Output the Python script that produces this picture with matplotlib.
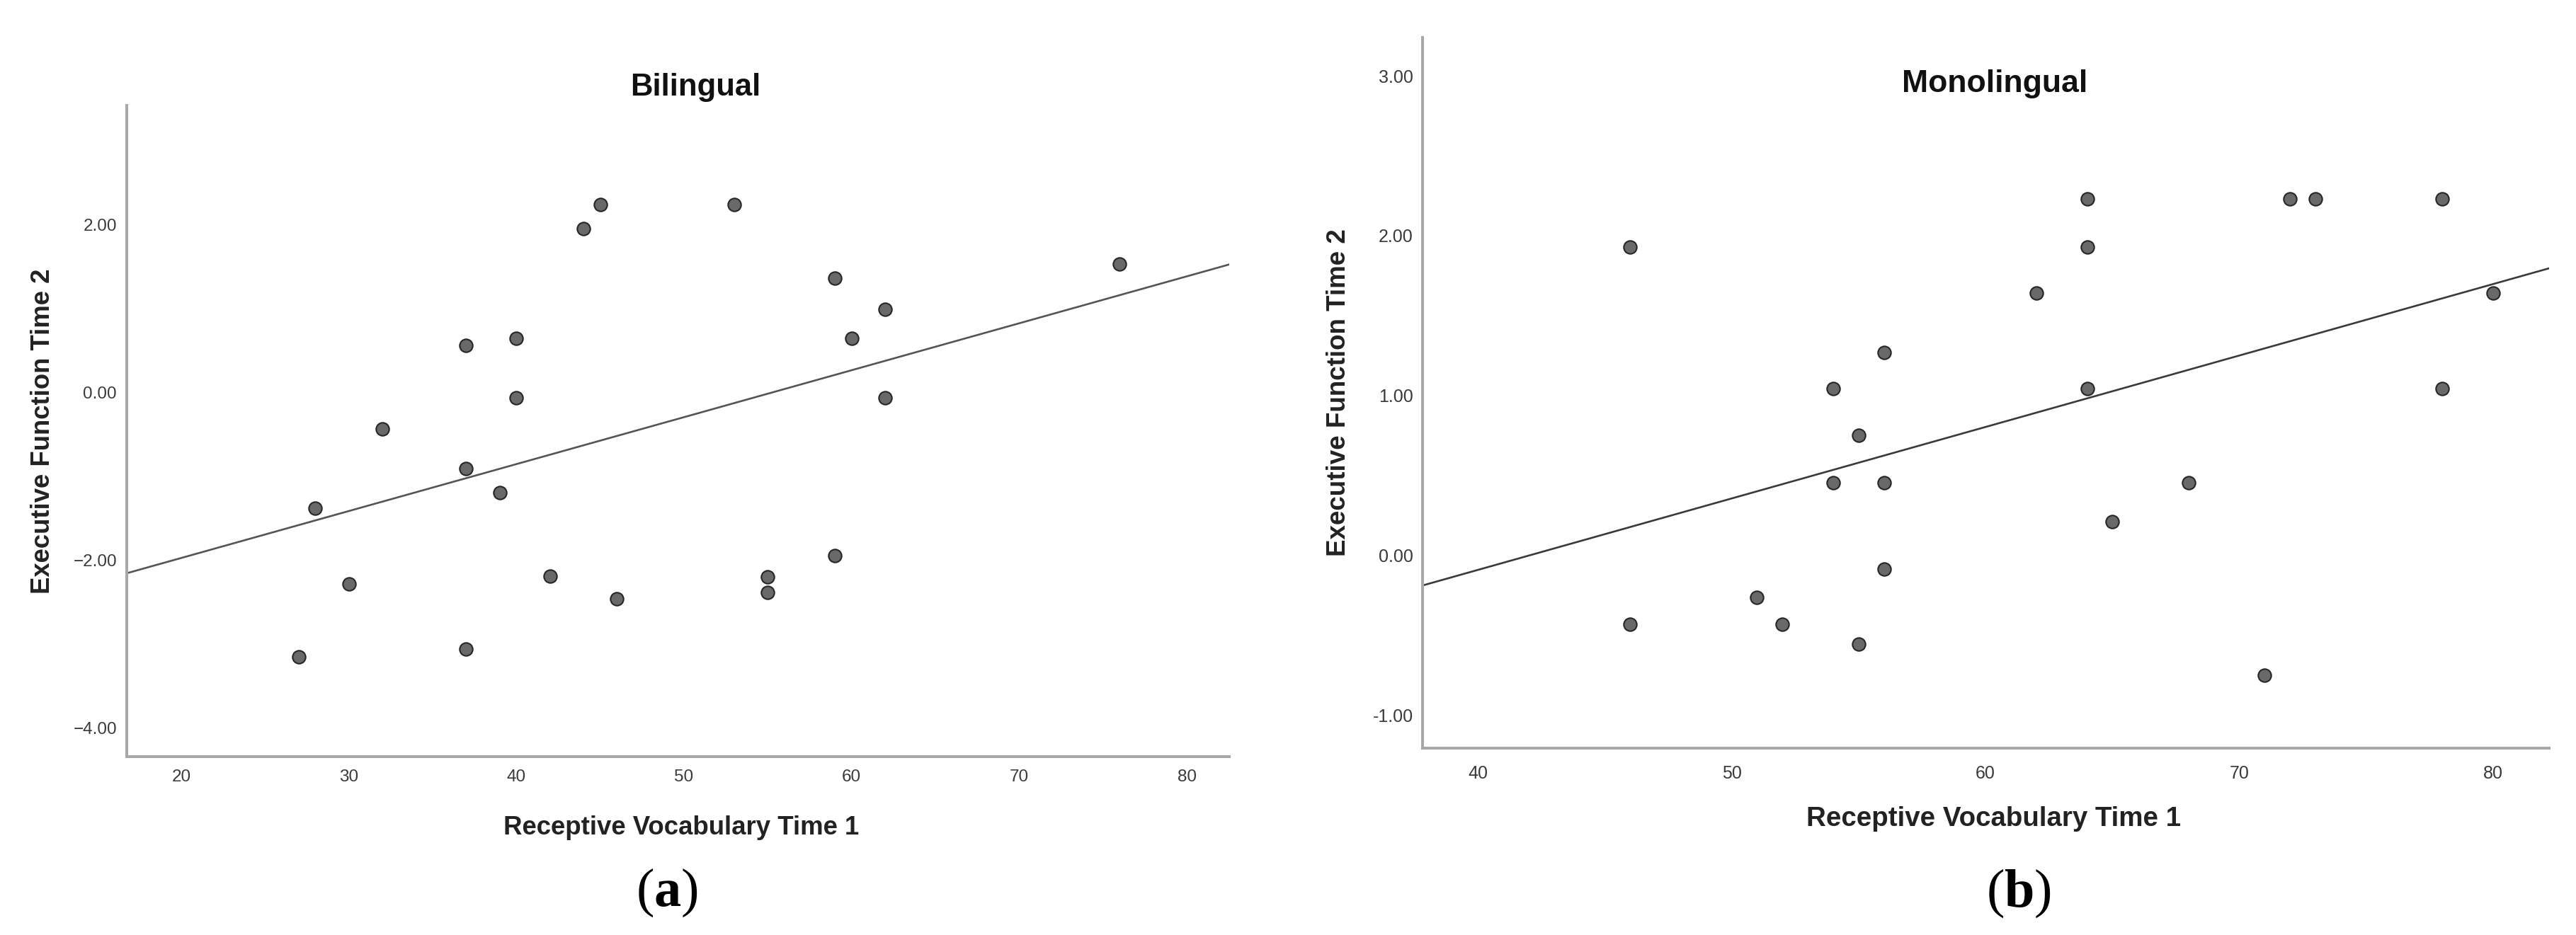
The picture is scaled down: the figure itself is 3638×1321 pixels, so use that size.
import numpy as np
import matplotlib.pyplot as plt

plt.rcParams['font.family'] = ['Liberation Sans', 'DejaVu Sans']
plt.rcParams['mathtext.fontset'] = 'custom'
plt.rcParams['mathtext.rm'] = 'Liberation Serif'
plt.rcParams['mathtext.bf'] = 'Liberation Serif:bold'

# bilingual children: receptive vocabulary (time 1) vs executive function (time 2)
bi_vocab = [45, 53, 44, 76, 59, 62, 37, 40, 60, 40, 62, 32, 37, 39, 28, 59,
            42, 55, 55, 30, 46, 37, 27]
bi_ef = [2.24, 2.24, 1.95, 1.53, 1.36, 0.99, 0.56, 0.64, 0.64, -0.07, -0.07,
         -0.44, -0.91, -1.20, -1.38, -1.95, -2.19, -2.20, -2.39, -2.29, -2.46,
         -3.06, -3.16]

# monolingual children
mono_vocab = [46, 64, 72, 73, 78, 64, 62, 80, 56, 54, 64, 78, 55, 54, 56, 68,
              65, 56, 51, 46, 52, 55, 71]
mono_ef = [1.93, 2.23, 2.23, 2.23, 2.23, 1.93, 1.64, 1.64, 1.27, 1.045, 1.045,
           1.045, 0.75, 0.455, 0.455, 0.455, 0.21, -0.084, -0.26, -0.43, -0.43,
           -0.555, -0.75]

bi_xticks = [20, 30, 40, 50, 60, 70, 80]
bi_yticks = [-4, -2, 0, 2]
mono_xticks = [40, 50, 60, 70, 80]
mono_yticks = [-1, 0, 1, 2, 3]

W, H = 3638, 1321
fig = plt.figure(figsize=(W / 100, H / 100), dpi=100)


def box(left, top, right, bottom):
    return [left / W, 1 - bottom / H, (right - left) / W, (bottom - top) / H]


def panel(ax, x, y, xlim, ylim, xticks, yticks, minus, tsize, xpad, ypad,
          line_color):
    x = np.array(x, dtype=float)
    y = np.array(y, dtype=float)
    ax.scatter(x, y, s=175, c='#696969', edgecolors='#262626',
               linewidths=1.5, zorder=3)
    slope, icept = np.polyfit(x, y, 1)
    xs = np.array(xlim)
    ax.plot(xs, slope * xs + icept, color=line_color, lw=1.9, zorder=2)
    ax.set_xlim(xlim)
    ax.set_ylim(ylim)
    ax.set_xticks(xticks)
    ax.set_xticklabels([str(t) for t in xticks])
    ax.set_yticks(yticks)
    ax.set_yticklabels([f'{t:.2f}'.replace('-', minus) for t in yticks])
    ax.tick_params(axis='x', length=0, pad=xpad, labelsize=tsize,
                   labelcolor='#3a3a3a')
    ax.tick_params(axis='y', length=0, pad=ypad, labelsize=tsize,
                   labelcolor='#3a3a3a')
    for s in ['top', 'right']:
        ax.spines[s].set_visible(False)
    for s in ['left', 'bottom']:
        ax.spines[s].set_color('#a8a8a8')
        ax.spines[s].set_linewidth(2.9)


ax1 = fig.add_axes(box(179, 149, 1736, 1069))
panel(ax1, bi_vocab, bi_ef, (16.75, 82.53), (-4.346, 3.418),
      bi_xticks, bi_yticks, '\u2212', 17.5, 13, 10, '#555555')

ax2 = fig.add_axes(box(2009, 53, 3600, 1057))
panel(ax2, mono_vocab, mono_ef, (37.82, 82.2), (-1.204, 3.239),
      mono_xticks, mono_yticks, '-', 18, 17, 9.5, '#3a3a3a')

# titles, axis labels and panel letters
fig.text(982 / W, 1 - 135 / H, 'Bilingual', ha='center', va='baseline',
         fontsize=31.4, fontweight='bold', color='#111111')
fig.text(2817 / W, 1 - 130 / H, 'Monolingual', ha='center', va='baseline',
         fontsize=32, fontweight='bold', color='#111111')

fig.text(962 / W, 1 - 1179 / H, 'Receptive Vocabulary Time 1', ha='center',
         va='baseline', fontsize=26.4, fontweight='bold', color='#222222')
fig.text(2816 / W, 1 - 1167 / H, 'Receptive Vocabulary Time 1', ha='center',
         va='baseline', fontsize=27.7, fontweight='bold', color='#222222')

fig.text(61 / W, 1 - 609 / H, 'Executive Function Time 2', rotation=90,
         ha='center', va='center', fontsize=26.3, fontweight='bold',
         color='#222222')
fig.text(1890 / W, 1 - 555 / H, 'Executive Function Time 2', rotation=90,
         ha='center', va='center', fontsize=26.5, fontweight='bold',
         color='#222222')

fig.text(942 / W, 1 - 1261 / H, r'$(\mathbf{a})$', ha='center', va='center',
         fontsize=55, color='black')
fig.text(2851 / W, 1 - 1262 / H, r'$(\mathbf{b})$', ha='center', va='center',
         fontsize=55, color='black')

fig.savefig('out.png', dpi=100, facecolor='white')
